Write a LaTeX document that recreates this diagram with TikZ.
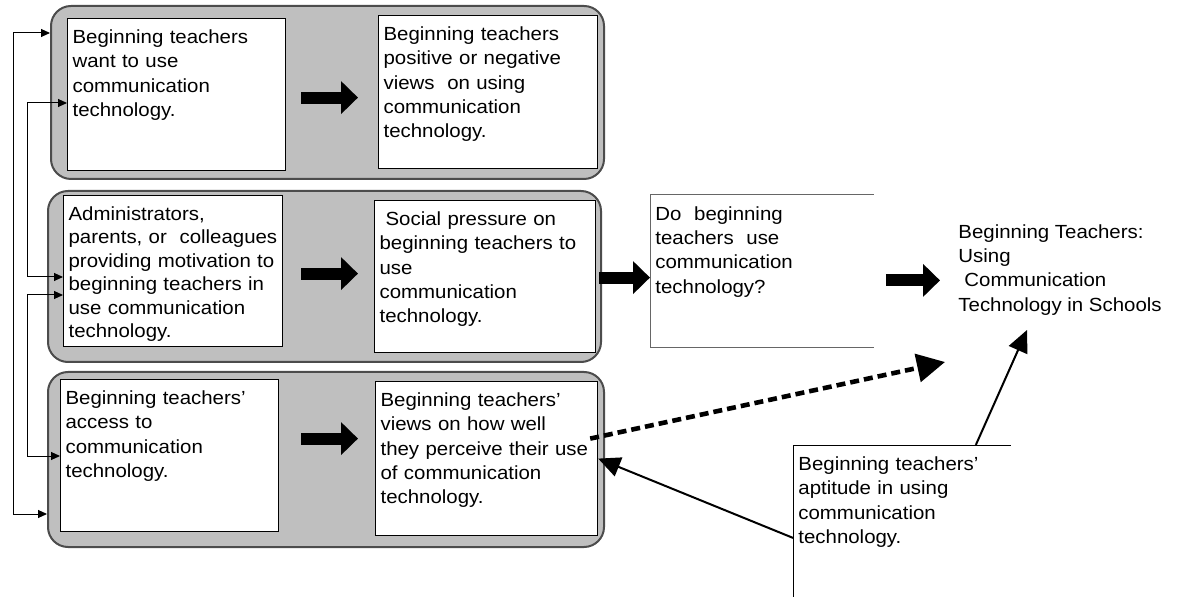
\documentclass[tikz,border=0pt]{standalone}
\usepackage{fontspec}
\setmainfont{Liberation Sans}[FakeStretch=1.075]
\usetikzlibrary{arrows.meta,calc}

\tikzset{
  panel/.style={draw=black!70, line width=1pt, fill=black!25, rounded corners=10pt,
    anchor=north west, inner sep=0pt},
  card/.style 2 args={draw, fill=white, line width=0.6pt, anchor=north west, align=left,
    inner xsep=2.5pt, inner ysep=5.5pt, text height=7pt, text width=#1, text depth=#2},
  openbox/.style 2 args={anchor=north west, align=left, inner xsep=2.5pt, inner ysep=5.5pt,
    text height=7pt, text width=#1, text depth=#2},
  fb/.style={line width=0.5pt, {Triangle[length=4.5pt,width=4pt]}-{Triangle[length=4.5pt,width=4pt]}},
  block/.style={line width=6pt, -{Triangle[length=8.5pt,width=16pt]}},
  dasharrow/.style={line width=2.3pt, dash pattern=on 4.5pt off 2.5pt, -{Triangle[length=14pt,width=14pt]}},
  thinarrow/.style={line width=1pt, -{Triangle[length=11pt,width=10pt]}},
}

\begin{document}
\begin{tikzpicture}[x=0.5pt, y=-0.5pt, font=\fontsize{9.5pt}{12.15pt}\selectfont]
  \fill[white] (0,0) rectangle (1181,596);

  % grey groups
  \node[panel, minimum width=276.5pt, minimum height=86.5pt] (attitude) at (50,5) {};
  \node[panel, minimum width=276.5pt, minimum height=85.5pt] (norm) at (47,190) {};
  \node[panel, minimum width=278pt, minimum height=87.5pt] (control) at (47,371) {};

  % boxes
  \node[card={104pt}{58pt}] (want) at (67,18)
    {Beginning teachers\\ want to use\\ communication\\ technology.};
  \node[card={104.5pt}{58.5pt}] (views) at (378,15)
    {Beginning teachers\\ positive or negative\\ views\ \ on using\\ communication\\ technology.};
  \node[card={104.5pt}{57.5pt}, font=\fontsize{9.5pt}{11.7pt}\selectfont] (admin) at (63,195)
    {Administrators,\\ parents, or\ \ colleagues\\ providing motivation to\\ beginning teachers in\\ use communication\\ technology.};
  \node[card={105.5pt}{58pt}] (pressure) at (374,200)
    {\hspace*{3pt}Social pressure on\\ beginning teachers to\\ use\\ communication\\ technology.};
  \node[card={104pt}{58pt}] (access) at (60,379)
    {Beginning teachers'\\ access to\\ communication\\ technology.};
  \node[card={106pt}{59pt}] (perceive) at (375,381)
    {Beginning teachers'\\ views on how well\\ they perceive their use\\ of communication\\ technology.};

  \node[openbox={106.5pt}{58pt}] (douse) at (650,195)
    {Do\ \ beginning\\ teachers\ \ use\\ communication\\ technology?};
  \draw[black!60, line width=0.5pt] (douse.north east) -- (douse.north west)
    -- (douse.south west) -- (douse.south east);

  \node[anchor=north west, align=left, inner sep=0pt] (result) at (958,224)
    {Beginning Teachers:\\ Using\\ \hspace*{3pt}Communication\\ Technology in Schools};

  \node[openbox={103.5pt}{57.5pt}] (aptitude) at (793,445)
    {Beginning teachers'\\ aptitude in using\\ communication\\ technology.};
  \draw[line width=0.5pt] (aptitude.north east) -- (aptitude.north west) -- (aptitude.south west);

  \coordinate (goal1) at (945,362);
  \coordinate (goal2) at (1027,330);

  % thick arrows
  \draw[block] ($(want.east)+(15,3)$) -- ($(want.east -| views.west)+(-20,3)$);
  \draw[block] ($(admin.east)+(18,2.5)$) -- ($(admin.east -| pressure.west)+(-16,2.5)$);
  \draw[block] ($(access.east)+(22,-17)$) -- ($(access.east -| perceive.west)+(-17,-17)$);
  \draw[block] ($(pressure.east)+(3,1)$) -- ($(pressure.east -| douse.west)+(0,1)$);
  \draw[block] ($(douse.east)+(12,9)$) -- ($(douse.east -| result.west)+(-18,9)$);

  % feedback lines
  \draw[fb] (attitude.west |- 0,33) -| (13,514) -- (control.west |- 0,514);
  \draw[fb] (want.west |- 0,103) -| (27,277) -- (admin.west |- 0,277);
  \draw[fb] (admin.west |- 0,295) -| (27,456) -- (access.west |- 0,456);

  \draw[dasharrow] ($(perceive.east)+(-8,-20)$) -- (goal1);
  \draw[thinarrow] ($(aptitude.west)+(0,17)$) -- (perceive.east);
  \draw[thinarrow] ($(aptitude.north east)+(-35,0)$) -- (goal2);
\end{tikzpicture}
\end{document}
